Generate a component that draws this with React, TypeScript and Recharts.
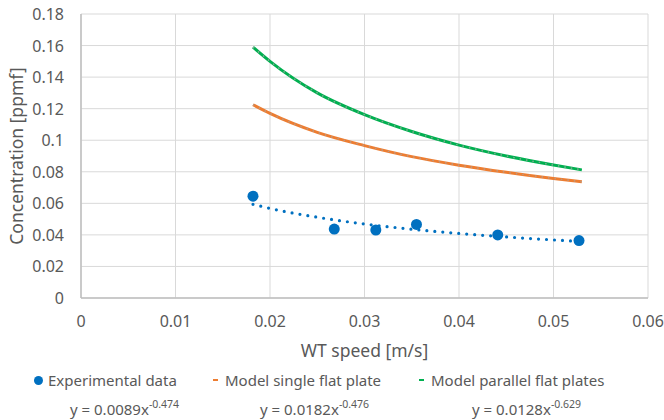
import React from 'react';
import {
  ComposedChart, Line, Scatter, XAxis, YAxis, CartesianGrid, Legend,
} from 'recharts';

const FONT = '"Noto Sans", "Open Sans", sans-serif';
const TEXT = '#595959';
const FS = 15;
const TICK_FS = 16;
const TITLE_FS = 17.5;

// Experimental measurements
const expX = [0.0182, 0.0268, 0.0312, 0.0355, 0.0441, 0.0527];
const expY = [0.0645, 0.0437, 0.0431, 0.0466, 0.0400, 0.0364];

const trendX = [0.0182, 0.02, 0.025, 0.03, 0.035, 0.04, 0.045, 0.05, 0.0527];
const trendY = [0.0594, 0.0568, 0.0512, 0.0469, 0.0436, 0.0409, 0.0387, 0.0368, 0.0359];

// Model curves
const modelX = [0.0182, 0.02, 0.025, 0.03, 0.035, 0.04, 0.045, 0.05, 0.053];
const singleY = [0.1225, 0.1170, 0.1050, 0.0966, 0.0896, 0.0842, 0.0797, 0.0758, 0.0737];
const parallelY = [0.159, 0.150, 0.130, 0.1162, 0.1055, 0.0969, 0.0900, 0.0843, 0.0812];

const xTicks = [0, 0.01, 0.02, 0.03, 0.04, 0.05, 0.06];
const yTicks = [0, 0.02, 0.04, 0.06, 0.08, 0.1, 0.12, 0.14, 0.16, 0.18];

const seriesNames = ['Experimental data', 'Model single flat plate', 'Model parallel flat plates'];
const equations = [
  ['y = 0.0089x', '-0.474'],
  ['y = 0.0182x', '-0.476'],
  ['y = 0.0128x', '-0.629'],
];

const expData = expX.map((x, i) => ({ x, y: expY[i] }));
const trendData = trendX.map((x, i) => ({ x, y: trendY[i] }));
const singleData = modelX.map((x, i) => ({ x, y: singleY[i] }));
const parallelData = modelX.map((x, i) => ({ x, y: parallelY[i] }));

const BLUE = '#0070C0';
const ORANGE = '#ED7D31';
const GREEN = '#00B050';

const LegendContent = () => {
  const items = [
    { left: 34, eqLeft: 70, color: BLUE, kind: 'dot' },
    { left: 213, eqLeft: 260, color: ORANGE, kind: 'dash' },
    { left: 419, eqLeft: 472, color: GREEN, kind: 'dash' },
  ];
  return (
    <div style={{ position: 'relative', width: 664, height: 60, fontFamily: FONT, color: TEXT, fontSize: FS }}>
      {items.map((it, i) => (
        <React.Fragment key={i}>
          <div style={{ position: 'absolute', left: it.left, top: 10, height: 20, display: 'flex', alignItems: 'center', whiteSpace: 'nowrap' }}>
            {it.kind === 'dot' ? (
              <span style={{ display: 'inline-block', width: 9, height: 9, borderRadius: 5, background: it.color, marginRight: 5 }} />
            ) : (
              <span style={{ display: 'inline-block', width: 5, height: 2, background: it.color, marginRight: 7 }} />
            )}
            <span>{seriesNames[i]}</span>
          </div>
          <div style={{ position: 'absolute', left: it.eqLeft, top: 39, height: 20, whiteSpace: 'nowrap', lineHeight: '20px' }}>
            {equations[i][0]}
            <sup style={{ fontSize: 10.5, verticalAlign: 'top', position: 'relative', top: -5 }}>{equations[i][1]}</sup>
          </div>
        </React.Fragment>
      ))}
    </div>
  );
};

const YLabel = (props: any) => {
  const vb = props.viewBox || {};
  const cx = (vb.x || 0) + 16;
  const cy = (vb.y || 0) + (vb.height || 0) / 2;
  return (
    <text x={cx} y={cy} transform={`rotate(-90 ${cx} ${cy})`} textAnchor="middle" dominantBaseline="central"
      fill={TEXT} fontSize={TITLE_FS} fontFamily={FONT}>
      Concentration [ppmf]
    </text>
  );
};

const XLabel = (props: any) => {
  const vb = props.viewBox || {};
  const cx = (vb.x || 0) + (vb.width || 0) / 2;
  const cy = (vb.y || 0) + 52;
  return (
    <text x={cx} y={cy} textAnchor="middle" dominantBaseline="central" fill={TEXT} fontSize={TITLE_FS} fontFamily={FONT}>
      WT speed [m/s]
    </text>
  );
};

const XTick = (props: any) => {
  const { x, y, payload } = props;
  return (
    <text x={x} y={y + 23} textAnchor="middle" dominantBaseline="central" fill={TEXT} fontSize={TICK_FS} fontFamily={FONT}>
      {String(payload.value)}
    </text>
  );
};

const YTick = (props: any) => {
  const { x, y, payload } = props;
  return (
    <text x={x} y={y} textAnchor="end" dominantBaseline="central" fill={TEXT} fontSize={TICK_FS} fontFamily={FONT}>
      {String(payload.value)}
    </text>
  );
};

export default function App() {
  return (
    <div style={{ position: 'absolute', left: 0, top: 0, width: 664, height: 420, background: '#fff' }}>
      <ComposedChart width={664} height={420} margin={{ top: 14, right: 16, bottom: 0, left: 0 }}>
        <CartesianGrid stroke="#D9D9D9" strokeWidth={1} horizontalValues={yTicks} verticalValues={xTicks} />
        <XAxis
          type="number" dataKey="x" domain={[0, 0.06]} ticks={xTicks} allowDataOverflow
          height={62} tickLine={false} tickSize={0} tickMargin={0}
          axisLine={{ stroke: '#BFBFBF', strokeWidth: 1.5 }}
          tick={<XTick />}
          label={<XLabel />}
        />
        <YAxis
          type="number" dataKey="y" domain={[0, 0.18]} ticks={yTicks} allowDataOverflow
          width={81} tickLine={false} tickSize={0} tickMargin={17}
          axisLine={{ stroke: '#BFBFBF', strokeWidth: 1.5 }}
          tick={<YTick />}
          label={<YLabel />}
        />
        <Legend verticalAlign="bottom" content={<LegendContent />} wrapperStyle={{ left: 0, width: 664, height: 60 }} />
        <Line data={singleData} dataKey="y" type="monotone" stroke={ORANGE} strokeWidth={3} dot={false} isAnimationActive={false} legendType="none" />
        <Line data={singleData} dataKey="y" type="monotone" stroke="#A5A5A5" strokeWidth={1.5} strokeDasharray="1.5 5" strokeOpacity={0.7} dot={false} isAnimationActive={false} legendType="none" />
        <Line data={parallelData} dataKey="y" type="monotone" stroke={GREEN} strokeWidth={3} dot={false} isAnimationActive={false} legendType="none" />
        <Line data={parallelData} dataKey="y" type="monotone" stroke="#A5A5A5" strokeWidth={1.5} strokeDasharray="1.5 5" strokeOpacity={0.8} dot={false} isAnimationActive={false} legendType="none" />
        <Line data={trendData} dataKey="y" type="monotone" stroke={BLUE} strokeWidth={3.2} strokeDasharray="0 8" strokeLinecap="round" dot={false} isAnimationActive={false} legendType="none" />
        <Scatter data={expData} dataKey="y" fill={BLUE} isAnimationActive={false}
          shape={(p: any) => <circle cx={p.cx} cy={p.cy} r={5.5} fill={BLUE} />} />
      </ComposedChart>
    </div>
  );
}
